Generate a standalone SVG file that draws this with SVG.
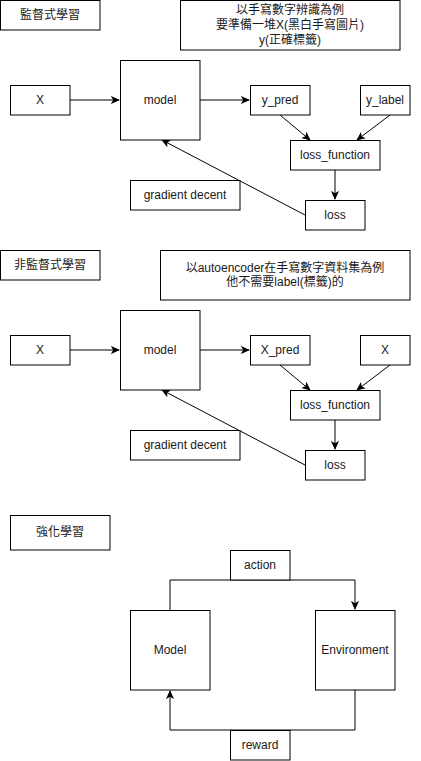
<svg xmlns="http://www.w3.org/2000/svg" width="421" height="761" viewBox="0 0 421 761">
<style>
rect{fill:#fff;stroke:#000;stroke-width:1}
text{font-family:"Liberation Sans","Noto Sans CJK TC",sans-serif;font-size:12px;fill:#1a1a1a;text-anchor:middle;dominant-baseline:central}
.e{fill:none;stroke:#000;stroke-width:1}
</style>
<defs>
<marker id="a" viewBox="0 0 10 10" refX="9" refY="5" markerWidth="9" markerHeight="9" markerUnits="userSpaceOnUse" orient="auto">
<path d="M0,0.5 L10,5 L0,9.5 L2.5,5 Z" fill="#000"/>
</marker>
</defs>
<rect x="0" y="-1" width="421" height="763" style="fill:#fff;stroke:none"/>
<g id="edges">
<path class="e" d="M70,100 H119" marker-end="url(#a)"/>
<path class="e" d="M200,100 H249" marker-end="url(#a)"/>
<path class="e" d="M280,115 L310,140" marker-end="url(#a)"/>
<path class="e" d="M390,115 L357,140" marker-end="url(#a)"/>
<path class="e" d="M335,170 V199" marker-end="url(#a)"/>
<path class="e" d="M305,215 L162,140" marker-end="url(#a)"/>
<path class="e" d="M70,350 H119" marker-end="url(#a)"/>
<path class="e" d="M200,350 H249" marker-end="url(#a)"/>
<path class="e" d="M280,365 L310,390" marker-end="url(#a)"/>
<path class="e" d="M390,365 L357,390" marker-end="url(#a)"/>
<path class="e" d="M335,420 V449" marker-end="url(#a)"/>
<path class="e" d="M305,465 L162,390" marker-end="url(#a)"/>
<path class="e" d="M170,610 V580 H355 V609" marker-end="url(#a)"/>
<path class="e" d="M355,690 V730 H170 V691" marker-end="url(#a)"/>
</g>
<g id="title1"><rect x="0.5" y="0.5" width="99.5" height="29.5"/><text x="50" y="15">監督式學習</text></g>
<g id="note1"><rect x="180.5" y="0.5" width="219.5" height="49.5"/><text x="290" y="10">以手寫數字辨識為例</text><text x="290" y="25">要準備一堆X(黑白手寫圖片)</text><text x="290" y="40">y(正確標籤)</text></g>
<g id="x1"><rect x="10.5" y="85.5" width="59.5" height="29.5"/><text x="40" y="100">X</text></g>
<g id="model1"><rect x="120.5" y="60.5" width="79.5" height="79.5"/><text x="160" y="100">model</text></g>
<g id="ypred"><rect x="250.5" y="85.5" width="59.5" height="29.5"/><text x="280" y="100">y_pred</text></g>
<g id="ylabel"><rect x="360.5" y="85.5" width="49.5" height="29.5"/><text x="385" y="100">y_label</text></g>
<g id="lossfn1"><rect x="290.5" y="140.5" width="89.5" height="29.5"/><text x="335" y="155">loss_function</text></g>
<g id="loss1"><rect x="305.5" y="200.5" width="59.5" height="29.5"/><text x="335" y="215">loss</text></g>
<g id="gd1"><rect x="130.5" y="180.5" width="109.5" height="29.5"/><text x="185" y="195">gradient decent</text></g>
<g id="title2"><rect x="0.5" y="250.5" width="99.5" height="29.5"/><text x="50" y="265">非監督式學習</text></g>
<g id="note2"><rect x="160.5" y="250.5" width="249.5" height="49.5"/><text x="285" y="268">以autoencoder在手寫數字資料集為例</text><text x="285" y="282">他不需要label(標籤)的</text></g>
<g id="x2"><rect x="10.5" y="335.5" width="59.5" height="29.5"/><text x="40" y="350">X</text></g>
<g id="model2"><rect x="120.5" y="310.5" width="79.5" height="79.5"/><text x="160" y="350">model</text></g>
<g id="xpred"><rect x="250.5" y="335.5" width="59.5" height="29.5"/><text x="280" y="350">X_pred</text></g>
<g id="xlabel"><rect x="360.5" y="335.5" width="49.5" height="29.5"/><text x="385" y="350">X</text></g>
<g id="lossfn2"><rect x="290.5" y="390.5" width="89.5" height="29.5"/><text x="335" y="405">loss_function</text></g>
<g id="loss2"><rect x="305.5" y="450.5" width="59.5" height="29.5"/><text x="335" y="465">loss</text></g>
<g id="gd2"><rect x="130.5" y="430.5" width="109.5" height="29.5"/><text x="185" y="445">gradient decent</text></g>
<g id="title3"><rect x="10.5" y="515.5" width="99.5" height="34.5"/><text x="60" y="532">強化學習</text></g>
<g id="action"><rect x="230.5" y="550.5" width="59.5" height="29.5"/><text x="260" y="565">action</text></g>
<g id="rlmodel"><rect x="130.5" y="610.5" width="79.5" height="79.5"/><text x="170" y="650">Model</text></g>
<g id="env"><rect x="315.5" y="610.5" width="79.5" height="79.5"/><text x="355" y="650">Environment</text></g>
<g id="reward"><rect x="230.5" y="730.5" width="59.5" height="29.5"/><text x="260" y="745">reward</text></g>
</svg>
